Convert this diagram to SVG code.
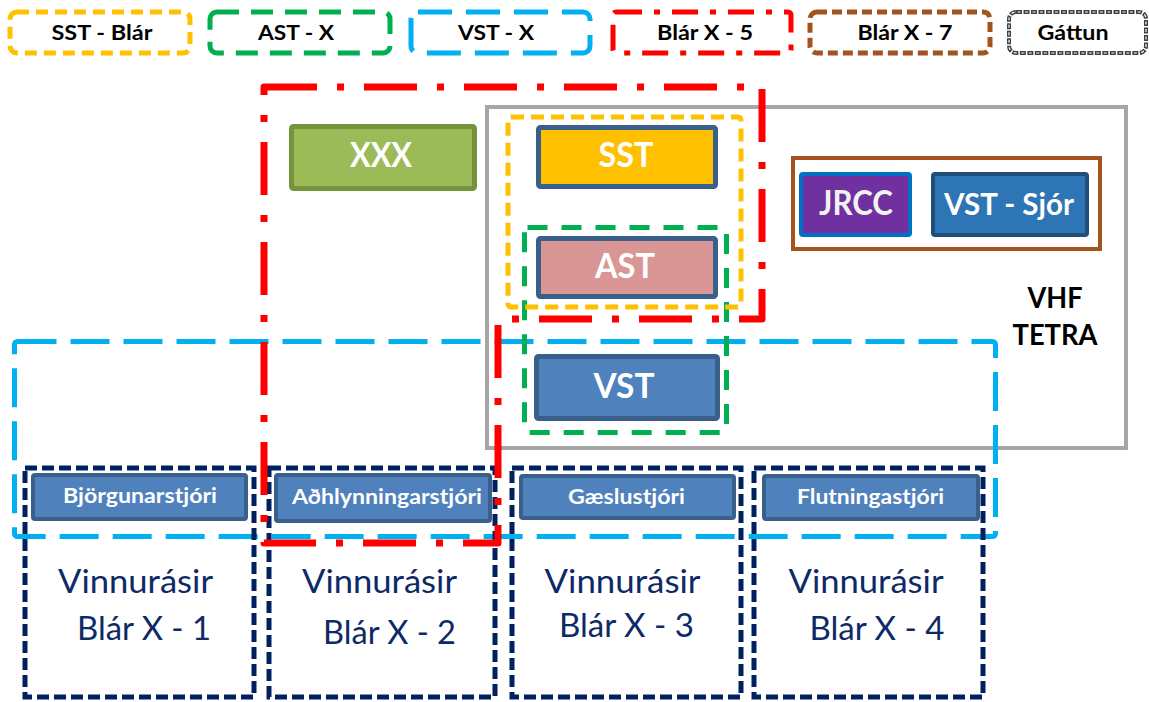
<svg xmlns="http://www.w3.org/2000/svg" width="1149" height="702" viewBox="0 0 1149 702">
<style>
.lg{fill:none;stroke-linejoin:round}
.lt{font-family:Lato,"Liberation Sans",sans-serif;font-weight:bold;font-size:21px;fill:#000;text-anchor:middle}
.nb{stroke-width:5;stroke:#3A5F8B}
.nt{font-family:Lato,"Liberation Sans",sans-serif;font-weight:bold;fill:#fff;text-anchor:middle}
.sb{fill:#4F81BD;stroke:#3A5F8B;stroke-width:4}
.st{font-family:Lato,"Liberation Sans",sans-serif;font-weight:bold;font-size:20px;fill:#fff;text-anchor:middle}
.nv{fill:none;stroke:#002060;stroke-width:5;stroke-dasharray:12 5}
.vt{font-family:Lato,"Liberation Sans",sans-serif;font-size:32px;fill:#0E2A66;text-anchor:middle}
.yel{fill:none;stroke:#FFC000;stroke-width:5;stroke-dasharray:13 7}
.grn{fill:none;stroke:#00B050;stroke-width:5;stroke-dasharray:20 14}
.blu{fill:none;stroke:#00B0F0;stroke-width:5;stroke-dasharray:39 14}
.red{fill:none;stroke:#FF0000;stroke-width:7;stroke-dasharray:53 20 7 20}
</style>
<rect width="1149" height="702" fill="#fff"/>
<g id="legend">
  <g id="legend-sst">
    <rect x="10" y="12" width="180" height="41" rx="7" class="lg" stroke="#FFC000" stroke-width="5" stroke-dasharray="12 7"/>
    <text x="102" y="40" class="lt" textLength="101" lengthAdjust="spacingAndGlyphs">SST - Blár</text>
  </g>
  <g id="legend-ast">
    <rect x="210" y="12" width="180" height="41" rx="7" class="lg" stroke="#00B050" stroke-width="5" stroke-dasharray="22 12"/>
    <text x="296" y="40" class="lt" textLength="76" lengthAdjust="spacingAndGlyphs">AST - X</text>
  </g>
  <g id="legend-vst">
    <rect x="411" y="12" width="179" height="41" rx="7" class="lg" stroke="#00B0F0" stroke-width="5" stroke-dasharray="34 14"/>
    <text x="496" y="40" class="lt" textLength="76" lengthAdjust="spacingAndGlyphs">VST - X</text>
  </g>
  <g id="legend-blar5">
    <rect x="613" y="12" width="178" height="41" rx="3" class="lg" stroke="#FF0000" stroke-width="5" stroke-dasharray="26 12 6 12"/>
    <text x="705" y="40" class="lt" textLength="96" lengthAdjust="spacingAndGlyphs">Blár X - 5</text>
  </g>
  <g id="legend-blar7">
    <rect x="810" y="12" width="180" height="41" rx="7" class="lg" stroke="#A5531C" stroke-width="5" stroke-dasharray="10 5"/>
    <text x="905" y="40" class="lt" textLength="95" lengthAdjust="spacingAndGlyphs">Blár X - 7</text>
  </g>
  <g id="legend-gattun">
    <rect x="1009" y="12" width="137" height="41" rx="7" class="lg" stroke="#404040" stroke-width="4" stroke-dasharray="6 1.5"/>
    <rect x="1009" y="12" width="137" height="41" rx="7" class="lg" stroke="#ffffff" stroke-width="1.2" stroke-dasharray="3 4.5" stroke-dashoffset="-1.5"/>
    <text x="1073" y="40" class="lt" textLength="71" lengthAdjust="spacingAndGlyphs">Gáttun</text>
  </g>
</g>

<g id="gattun-box">
  <rect x="487" y="107" width="639" height="341" fill="none" stroke="#A6A6A6" stroke-width="4"/>
  <text x="1055" y="308" class="lt" style="font-size:29px" textLength="55" lengthAdjust="spacingAndGlyphs">VHF</text>
  <text x="1055" y="345" class="lt" style="font-size:29px" textLength="85" lengthAdjust="spacingAndGlyphs">TETRA</text>
</g>

<g id="vst-x-group">
  <rect x="14.5" y="341.5" width="981" height="195" rx="3" class="blu"/>
</g>

<g id="working-channels">
  <g id="channel-1">
    <rect x="25" y="468" width="229" height="229" class="nv"/>
    <rect x="33" y="475" width="213" height="44" rx="2" class="sb"/>
    <text x="140" y="503" class="st" textLength="154" lengthAdjust="spacingAndGlyphs">Björgunarstjóri</text>
    <text x="135.5" y="593" class="vt" textLength="155" lengthAdjust="spacingAndGlyphs">Vinnurásir</text>
    <text x="144" y="640" class="vt" textLength="134" lengthAdjust="spacingAndGlyphs">Blár X - 1</text>
  </g>
  <g id="channel-2">
    <rect x="269" y="468" width="226" height="229" class="nv"/>
    <rect x="276" y="475" width="214" height="46" rx="2" class="sb"/>
    <text x="387" y="504" class="st" textLength="190" lengthAdjust="spacingAndGlyphs">Aðhlynningarstjóri</text>
    <text x="379.5" y="593" class="vt" textLength="155" lengthAdjust="spacingAndGlyphs">Vinnurásir</text>
    <text x="389.5" y="644" class="vt" textLength="133" lengthAdjust="spacingAndGlyphs">Blár X - 2</text>
  </g>
  <g id="channel-3">
    <rect x="512" y="468" width="229" height="229" class="nv"/>
    <rect x="521" y="476" width="213" height="42" rx="2" class="sb"/>
    <text x="626.5" y="504" class="st" textLength="117" lengthAdjust="spacingAndGlyphs">Gæslustjóri</text>
    <text x="622.5" y="593" class="vt" textLength="156" lengthAdjust="spacingAndGlyphs">Vinnurásir</text>
    <text x="626.5" y="637" class="vt" textLength="135" lengthAdjust="spacingAndGlyphs">Blár X - 3</text>
  </g>
  <g id="channel-4">
    <rect x="754" y="468" width="229" height="229" class="nv"/>
    <rect x="764" y="476" width="214" height="43" rx="2" class="sb"/>
    <text x="870.5" y="504" class="st" textLength="147" lengthAdjust="spacingAndGlyphs">Flutningastjóri</text>
    <text x="866" y="593" class="vt" textLength="155" lengthAdjust="spacingAndGlyphs">Vinnurásir</text>
    <text x="877" y="640" class="vt" textLength="135" lengthAdjust="spacingAndGlyphs">Blár X - 4</text>
  </g>
</g>

<g id="sea-group">
  <rect x="793" y="158" width="307" height="91" fill="none" stroke="#A5531C" stroke-width="4"/>
  <g id="node-jrcc">
    <rect x="801" y="174" width="109" height="61" rx="2" fill="#7030A0" stroke="#0070C0" stroke-width="4"/>
    <text x="856" y="215" class="nt" style="font-size:34px;fill:#F2F2F2" textLength="74" lengthAdjust="spacingAndGlyphs">JRCC</text>
  </g>
  <g id="node-vst-sjor">
    <rect x="933" y="174" width="154" height="61" rx="2" fill="#2E75B6" stroke="#1F4E79" stroke-width="4"/>
    <text x="1009" y="215" class="nt" style="font-size:30px" textLength="130" lengthAdjust="spacingAndGlyphs">VST - Sjór</text>
  </g>
</g>

<g id="node-xxx">
  <rect x="291.5" y="126.5" width="183" height="62" rx="2" fill="#9BBB59" stroke="#76923C" stroke-width="5"/>
  <text x="381" y="167" class="nt" style="font-size:34px" textLength="62" lengthAdjust="spacingAndGlyphs">XXX</text>
</g>
<g id="node-sst">
  <rect x="538.5" y="127.5" width="177" height="59" rx="2" fill="#FFC000" class="nb"/>
  <text x="626" y="167" class="nt" style="font-size:34px" textLength="55" lengthAdjust="spacingAndGlyphs">SST</text>
</g>
<g id="node-ast">
  <rect x="538.5" y="238.5" width="177" height="58" rx="2" fill="#D99694" class="nb"/>
  <text x="625" y="278" class="nt" style="font-size:34px" textLength="60" lengthAdjust="spacingAndGlyphs">AST</text>
</g>
<g id="node-vst">
  <rect x="536.5" y="356.5" width="181" height="62" rx="2" fill="#4F81BD" class="nb"/>
  <text x="624" y="398" class="nt" style="font-size:34px" textLength="61" lengthAdjust="spacingAndGlyphs">VST</text>
</g>

<g id="groups">
  <rect id="ast-x-group" x="524.5" y="227.5" width="202" height="205" rx="3" class="grn"/>
  <rect id="sst-blar-group" x="508" y="117" width="233" height="190" rx="3" class="yel"/>
  <path id="blar-x5-group" d="M264,87 H762 V319 H498 V543 H264 Z" class="red" stroke-linejoin="round"/>
</g>
</svg>
